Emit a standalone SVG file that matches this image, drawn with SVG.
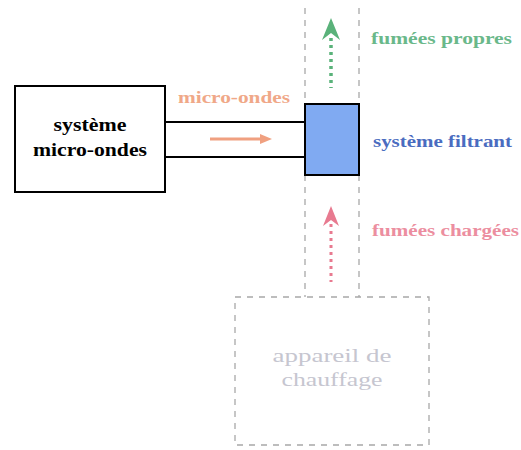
<svg xmlns="http://www.w3.org/2000/svg" width="521" height="450" viewBox="0 0 521 450">
<style>
text{font-family:"Liberation Serif","DejaVu Serif",serif;font-weight:bold}
.dash{fill:none;stroke:#a8a8a8;stroke-width:1.3;stroke-dasharray:6,6}
.solid{fill:none;stroke:#000;stroke-width:2}
.lbl{font-size:17px}
</style>
<rect width="521" height="450" fill="#fff"/>
<g id="chimney">
<line class="dash" x1="305" y1="8" x2="305" y2="104"/>
<line class="dash" x1="359" y1="8" x2="359" y2="104"/>
<line class="dash" x1="305" y1="175" x2="305" y2="297"/>
<line class="dash" x1="359" y1="175" x2="359" y2="297"/>
</g>
<g id="microwave-system">
<rect class="solid" x="15" y="86" width="150" height="106"/>
<text x="90" y="131" font-size="18" text-anchor="middle" textLength="73" lengthAdjust="spacingAndGlyphs">système</text>
<text x="90" y="156" font-size="18" text-anchor="middle" textLength="114" lengthAdjust="spacingAndGlyphs">micro-ondes</text>
</g>
<g id="connectors">
<line class="solid" x1="165" y1="122" x2="305" y2="122"/>
<line class="solid" x1="165" y1="157" x2="305" y2="157"/>
<line x1="210" y1="139" x2="262" y2="139" stroke="#f0a080" stroke-width="3"/>
<polygon points="272,139 260,134 260,144" fill="#f0a080"/>
<line x1="331" y1="38" x2="331" y2="88" stroke="#5ab27a" stroke-width="3.5" stroke-dasharray="3,4"/>
<polygon points="331,18 322,40 331,33 340,40" fill="#5ab27a"/>
<line x1="331" y1="224" x2="331" y2="282" stroke="#e87a90" stroke-width="3" stroke-dasharray="3,4"/>
<polygon points="331,206 323,226 331,220 339,226" fill="#e87a90"/>
</g>
<g id="filter-system">
<rect x="305" y="104" width="54" height="71" fill="#80aaf2" stroke="#000" stroke-width="2"/>
<text class="lbl" x="373" y="147" fill="#4a6cc0" textLength="139" lengthAdjust="spacingAndGlyphs">système filtrant</text>
</g>
<g id="heater">
<rect class="dash" x="235" y="297" width="194" height="148"/>
<text x="332" y="362" font-size="19" fill="#c6c6d0" text-anchor="middle" style="font-weight:normal" textLength="119" lengthAdjust="spacingAndGlyphs">appareil de</text>
<text x="332" y="386" font-size="19" fill="#c6c6d0" text-anchor="middle" style="font-weight:normal" textLength="101" lengthAdjust="spacingAndGlyphs">chauffage</text>
</g>
<g id="labels">
<text class="lbl" x="371" y="44" fill="#6ab88a" textLength="141" lengthAdjust="spacingAndGlyphs">fumées propres</text>
<text class="lbl" x="178" y="103" fill="#f0a888" textLength="112" lengthAdjust="spacingAndGlyphs">micro-ondes</text>
<text class="lbl" x="372" y="236" fill="#ec8ea0" textLength="147" lengthAdjust="spacingAndGlyphs">fumées chargées</text>
</g>
</svg>
